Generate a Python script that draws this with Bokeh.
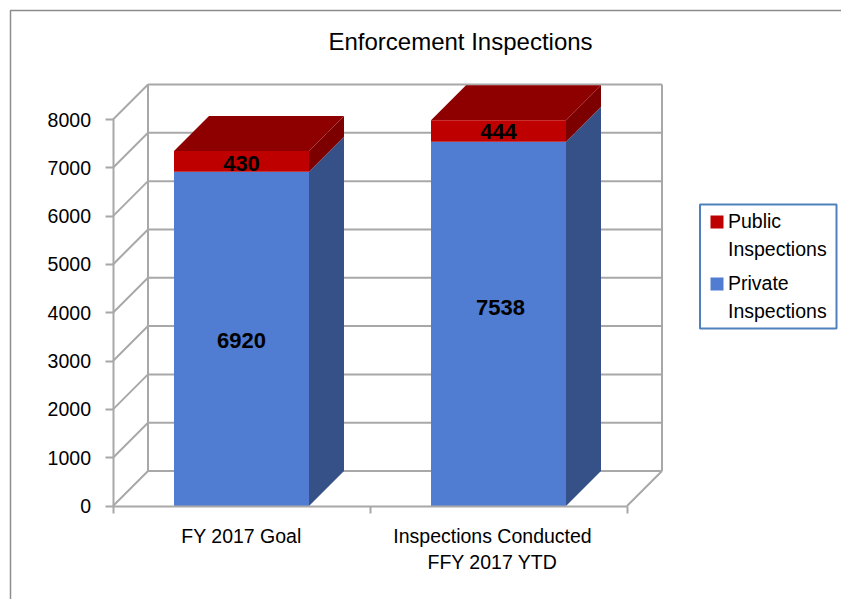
from bokeh.plotting import figure
from bokeh.models import Range1d, FixedTicker, Label, ColumnDataSource
from bokeh.core.properties import value
from bokeh.embed import file_html
from bokeh.resources import INLINE

categories = ["FY 2017 Goal", "Inspections Conducted\nFFY 2017 YTD"]
private_inspections = [6920, 7538]
public_inspections = [430, 444]
y_ticks = [0, 1000, 2000, 3000, 4000, 5000, 6000, 7000, 8000]
series_names = ["Public\nInspections", "Private\nInspections"]
series_colors = ["#bf0000", "#507cd2"]

FONT = "Liberation Sans"
PX_X = 257
PX_Y = 386.5 / 8000


def X(px):
    return (px - 112.5) / PX_X


def Y(py):
    return (505.5 - py) / PX_Y


DX = 35 / PX_X
DY = 35 / PX_Y
BAR_W = 135 / PX_X
YMAX = y_ticks[-1]
N = len(categories)
centers = [i + 0.5 for i in range(N)]
left = [c - BAR_W / 2 for c in centers]
right = [c + BAR_W / 2 for c in centers]
totals = [a + b for a, b in zip(private_inspections, public_inspections)]
# the second category label sits a little left of its bar in the reference
label_ticks = [centers[0], centers[1] - 6 / PX_X]

p = figure(width=841, height=599, output_backend="svg", toolbar_location=None,
           x_range=Range1d(X(0), X(841)), y_range=Range1d(Y(599), Y(0)),
           min_border=0, outline_line_color=None, background_fill_color="white",
           border_fill_color="white", x_axis_type="linear", y_axis_type="linear")
p.grid.visible = False

GRID = "#a8a8a8"
# outer frame of the picture
p.line([X(10), X(10), X(841)], [Y(599), Y(10), Y(10)], line_color="#8c8c8c", line_width=1.5)

# walls: back lines and diagonal side lines
p.multi_line([[DX, N + DX] for _ in y_ticks], [[t + DY, t + DY] for t in y_ticks],
             line_color=GRID, line_width=2)
p.multi_line([[0, DX] for _ in y_ticks], [[t, t + DY] for t in y_ticks],
             line_color=GRID, line_width=2)
p.multi_line([[DX, DX], [N + DX, N + DX], [N, N + DX]],
             [[DY, YMAX + DY], [DY, YMAX + DY], [0, DY]],
             line_color=GRID, line_width=2)

# depth faces of the bars
p.patches([[r, r + DX, r + DX, r] for r in right],
          [[0, DY, v + DY, v] for v in private_inspections],
          fill_color="#355188", line_color=None)
p.patches([[r, r + DX, r + DX, r] for r in right],
          [[v, v + DY, t + DY, t] for v, t in zip(private_inspections, totals)],
          fill_color="#7c0000", line_color=None)
p.patches([[l, r, r + DX, l + DX] for l, r in zip(left, right)],
          [[t, t, t + DY, t + DY] for t in totals],
          fill_color="#8e0000", line_color=None)

# front faces
src = ColumnDataSource(dict(x=centers, private=private_inspections, total=totals))
p.vbar(x="x", width=BAR_W, bottom=0, top="private", source=src,
       fill_color=series_colors[1], line_color=None)
p.vbar(x="x", width=BAR_W, bottom="private", top="total", source=src,
       fill_color=series_colors[0], line_color=None)

# value labels
lab_src = ColumnDataSource(dict(
    x=centers + centers,
    y=[v / 2 for v in private_inspections] + [v + w / 2 for v, w in zip(private_inspections, public_inspections)],
    t=[str(v) for v in private_inspections] + [str(v) for v in public_inspections],
    dx=[0, 2, 0, 0],
    dy=[2, -16, 2, 0],
))
p.text(x="x", y="y", text="t", x_offset="dx", y_offset="dy", source=lab_src, text_font=value(FONT),
       text_font_style="bold", text_font_size="22px", text_color="black",
       text_align="center", text_baseline="middle")

# axes sit inside the frame, on the chart's zero lines
ax = p.yaxis[0]
ax.fixed_location = 0
ax.bounds = (0, YMAX)
ax.ticker = FixedTicker(ticks=y_ticks)
ax.axis_line_color = GRID
ax.axis_line_width = 2
ax.major_tick_line_color = GRID
ax.major_tick_line_width = 2
ax.major_tick_in = 0
ax.major_tick_out = 8
ax.minor_tick_line_color = None
ax.major_label_standoff = 14
ax.major_label_text_font = FONT
ax.major_label_text_font_size = "19.5px"
ax.major_label_text_color = "black"

bx = p.xaxis[0]
bx.fixed_location = 0
bx.bounds = (0, N)
bx.ticker = FixedTicker(ticks=label_ticks, minor_ticks=list(range(N + 1)))
bx.major_label_overrides = {c: t for c, t in zip(label_ticks, categories)}
bx.axis_line_color = GRID
bx.axis_line_width = 2
bx.major_tick_line_color = None
bx.major_tick_in = 0
bx.major_tick_out = 0
bx.minor_tick_line_color = GRID
bx.minor_tick_line_width = 2
bx.minor_tick_in = 0
bx.minor_tick_out = 7
bx.major_label_standoff = 12
bx.major_label_text_font = FONT
bx.major_label_text_font_size = "19.5px"
bx.major_label_text_line_height = 1.2
bx.major_label_text_color = "black"

p.add_layout(Label(x=X(460), y=Y(41), text="Enforcement Inspections", text_font=FONT,
                   text_font_size="24px", text_color="black", text_align="center",
                   text_baseline="middle"))

# legend, with each swatch level with the first line of its two-line entry
p.quad(left=[X(699.5)], right=[X(836)], top=[Y(204)], bottom=[Y(328)],
       fill_color="white", line_color="#4f81bd", line_width=2)
p.quad(left=[X(710)] * 2, right=[X(723)] * 2, top=[Y(215), Y(277)], bottom=[Y(228), Y(290)],
       fill_color=series_colors, line_color=None)
p.text(x=[X(727.5)] * 2, y=[Y(234.5), Y(296.5)], text=series_names, text_font=value(FONT),
       text_font_size="19.5px", text_color="black", text_align="left",
       text_baseline="middle", text_line_height=1.25)

open("out.html", "w").write(file_html(p, INLINE))
